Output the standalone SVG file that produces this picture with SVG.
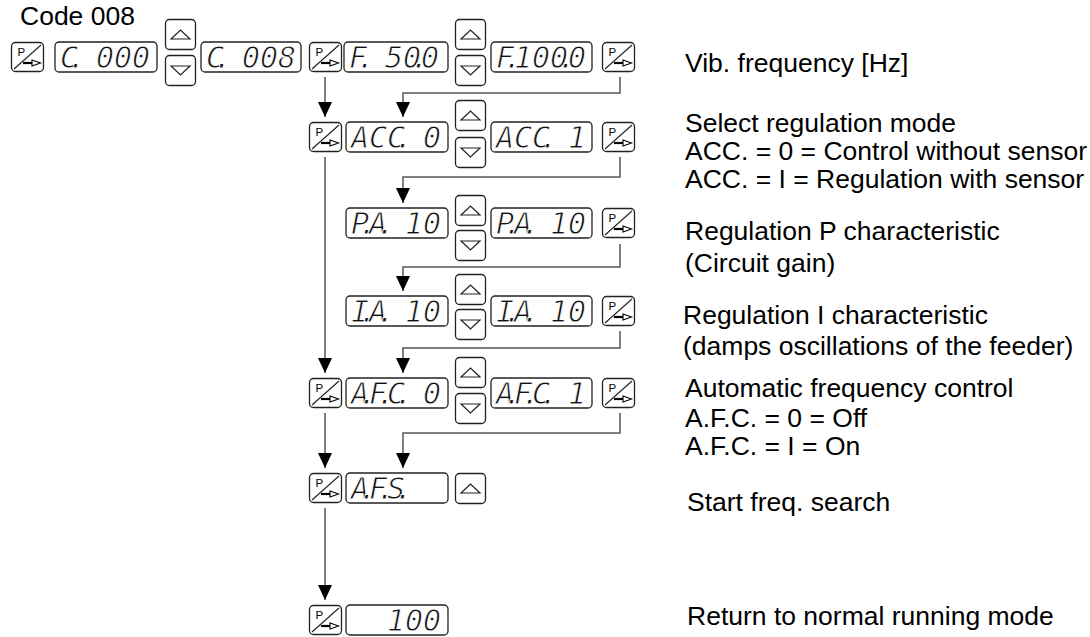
<svg xmlns="http://www.w3.org/2000/svg" xmlns:xlink="http://www.w3.org/1999/xlink" width="1090" height="637" viewBox="0 0 1090 637">
<style>
.box{fill:#fff;stroke:#222;stroke-width:1.3}
.tri{fill:none;stroke:#222;stroke-width:1.2}
.seg{font-family:"DejaVu Sans Mono",monospace;font-style:oblique;font-size:30px;fill:#111;stroke:#fff;stroke-width:0.9;paint-order:normal}
.lbl{font-family:"Liberation Sans",Arial,sans-serif;font-size:26.5px;fill:#000}
.pl{font-family:"Liberation Sans",Arial,sans-serif;font-size:11.5px;fill:#000}
.conn{fill:none;stroke:#555;stroke-width:1.5}
</style>
<defs>
<marker id="ah" markerUnits="userSpaceOnUse" markerWidth="15" markerHeight="14" refX="15" refY="7" orient="auto">
<path d="M0,0 L15,7 L0,14 Z" fill="#000"/>
</marker>
<g id="pkey">
<rect x="0.5" y="0.5" width="32" height="29" rx="4" class="box"/>
<text x="6.5" y="14" class="pl">P</text>
<line x1="3" y1="27" x2="30" y2="3" stroke="#222" stroke-width="1.1"/>
<line x1="12" y1="21" x2="22" y2="21" stroke="#000" stroke-width="2.2"/>
<path d="M21,18 L29.5,21 L21,24 Z" fill="#fff" stroke="#000" stroke-width="1.1"/>
</g>
<g id="upkey">
<rect x="0.5" y="0.5" width="30" height="30" rx="4" class="box"/>
<path d="M6,20 L15.5,11 L25,20 Z" class="tri"/>
</g>
<g id="dnkey">
<rect x="0.5" y="0.5" width="30" height="30" rx="4" class="box"/>
<path d="M6,11 L15.5,20 L25,11 Z" class="tri"/>
</g>
</defs>
<rect width="1090" height="637" fill="#fff"/>

<g id="connectors">
<path class="conn" d="M325,77 V117" marker-end="url(#ah)"/>
<path class="conn" d="M620,77 V93 H403 V117" marker-end="url(#ah)"/>
<path class="conn" d="M620,157 V177 H403 V203" marker-end="url(#ah)"/>
<path class="conn" d="M620,244 V267 H403 V291" marker-end="url(#ah)"/>
<path class="conn" d="M620,331 V348 H403 V373" marker-end="url(#ah)"/>
<path class="conn" d="M325,157 V373" marker-end="url(#ah)"/>
<path class="conn" d="M325,413 V468" marker-end="url(#ah)"/>
<path class="conn" d="M620,413 V433 H403 V468" marker-end="url(#ah)"/>
<path class="conn" d="M325,508 V600" marker-end="url(#ah)"/>
</g>

<g id="title"><text class="lbl" x="20" y="25">Code 008</text></g>

<g id="row1">
<g id="p1"><use href="#pkey" x="11" y="42"/></g>
<g id="d-c000"><rect class="box" x="55" y="42" width="102" height="30" rx="4"/>
<text class="seg" x="60 68 78 96 114 132" y="68">C. 000</text></g>
<g id="ud1"><use href="#upkey" x="165" y="19"/><use href="#dnkey" x="165" y="55"/></g>
<g id="d-c008"><rect class="box" x="201" y="42" width="100" height="30" rx="4"/>
<text class="seg" x="206 214 224 242 260 278" y="68">C. 008</text></g>
<g id="p2"><use href="#pkey" x="309" y="42"/></g>
<g id="d-f500"><rect class="box" x="344" y="42" width="104" height="30" rx="4"/>
<text class="seg" x="349 357 367 385 403 411 421" y="68">F. 50.0</text></g>
<g id="ud2"><use href="#upkey" x="455" y="19"/><use href="#dnkey" x="455" y="55"/></g>
<g id="d-f1000"><rect class="box" x="491" y="42" width="101" height="30" rx="4"/>
<text class="seg" x="496 504 510 514 532 550 558 568" y="68">F. 100.0</text></g>
<g id="p3"><use href="#pkey" x="602" y="42"/></g>
</g>

<g id="row-acc">
<g id="p-acc"><use href="#pkey" x="309" y="122"/></g>
<g id="d-acc0"><rect class="box" x="346" y="122" width="102" height="30" rx="4"/>
<text class="seg" x="351 369 387 395 405 423" y="148">ACC. 0</text></g>
<g id="ud-acc"><use href="#upkey" x="455" y="100"/><use href="#dnkey" x="455" y="137"/></g>
<g id="d-acc1"><rect class="box" x="491" y="122" width="101" height="30" rx="4"/>
<text class="seg" x="496 514 532 540 550 568" y="148">ACC. 1</text></g>
<g id="p-acc-r"><use href="#pkey" x="602" y="122"/></g>
</g>

<g id="row-pa">
<g id="d-pa"><rect class="box" x="346" y="208" width="102" height="30" rx="4"/>
<text class="seg" x="351 359 369 377 387 405 423" y="234">P.A. 10</text></g>
<g id="ud-pa"><use href="#upkey" x="455" y="195"/><use href="#dnkey" x="455" y="230"/></g>
<g id="d-pa2"><rect class="box" x="491" y="208" width="101" height="30" rx="4"/>
<text class="seg" x="496 504 514 522 532 550 568" y="234">P.A. 10</text></g>
<g id="p-pa-r"><use href="#pkey" x="602" y="208"/></g>
</g>

<g id="row-ia">
<g id="d-ia"><rect class="box" x="346" y="296" width="102" height="30" rx="4"/>
<text class="seg" x="351 359 369 377 387 405 423" y="322">I.A. 10</text></g>
<g id="ud-ia"><use href="#upkey" x="455" y="274"/><use href="#dnkey" x="455" y="309"/></g>
<g id="d-ia2"><rect class="box" x="491" y="296" width="101" height="30" rx="4"/>
<text class="seg" x="496 504 514 522 532 550 568" y="322">I.A. 10</text></g>
<g id="p-ia-r"><use href="#pkey" x="602" y="296"/></g>
</g>

<g id="row-afc">
<g id="p-afc"><use href="#pkey" x="309" y="378"/></g>
<g id="d-afc0"><rect class="box" x="346" y="378" width="102" height="30" rx="4"/>
<text class="seg" x="351 359 369 377 387 395 405 423" y="404">A.F.C. 0</text></g>
<g id="ud-afc"><use href="#upkey" x="455" y="357"/><use href="#dnkey" x="455" y="393"/></g>
<g id="d-afc1"><rect class="box" x="491" y="378" width="101" height="30" rx="4"/>
<text class="seg" x="496 504 514 522 532 540 550 568" y="404">A.F.C. 1</text></g>
<g id="p-afc-r"><use href="#pkey" x="602" y="378"/></g>
</g>

<g id="row-afs">
<g id="p-afs"><use href="#pkey" x="309" y="473"/></g>
<g id="d-afs"><rect class="box" x="346" y="473" width="102" height="30" rx="4"/>
<text class="seg" x="351 359 369 377 387 395" y="499">A.F.S.</text></g>
<g id="up-afs"><use href="#upkey" x="455" y="473"/></g>
</g>

<g id="row-end">
<g id="p-end"><use href="#pkey" x="309" y="605"/></g>
<g id="d-100"><rect class="box" x="346" y="605" width="102" height="30" rx="4"/>
<text class="seg" x="387 405 423" y="631">100</text></g>
</g>

<g id="labels">
<text class="lbl" x="685" y="72">Vib. frequency [Hz]</text>
<text class="lbl" x="685" y="132">Select regulation mode</text>
<text class="lbl" x="685" y="160">ACC. = 0 = Control without sensor</text>
<text class="lbl" x="685" y="188">ACC. = I = Regulation with sensor</text>
<text class="lbl" x="685" y="240">Regulation P characteristic</text>
<text class="lbl" x="685" y="272">(Circuit gain)</text>
<text class="lbl" x="683" y="324">Regulation I characteristic</text>
<text class="lbl" x="683" y="355">(damps oscillations of the feeder)</text>
<text class="lbl" x="685" y="397">Automatic frequency control</text>
<text class="lbl" x="685" y="427">A.F.C. = 0 = Off</text>
<text class="lbl" x="685" y="455">A.F.C. = I = On</text>
<text class="lbl" x="687" y="511">Start freq. search</text>
<text class="lbl" x="687" y="625">Return to normal running mode</text>
</g>
</svg>
